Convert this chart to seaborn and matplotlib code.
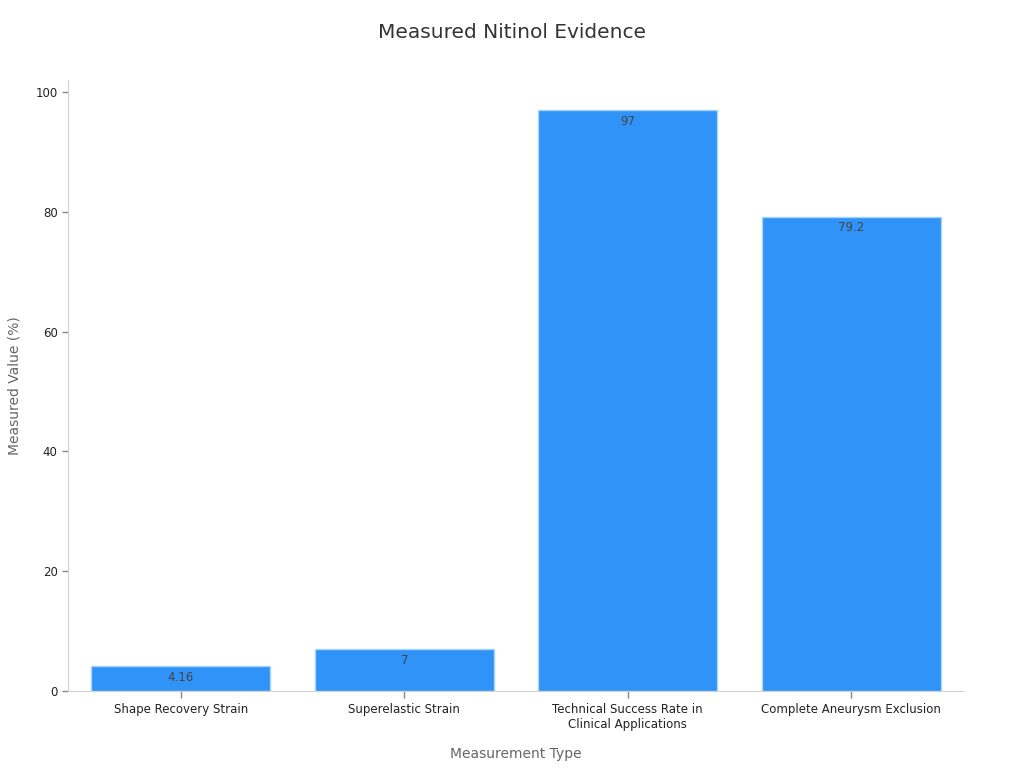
import matplotlib
matplotlib.use("Agg")
import matplotlib.pyplot as plt
import seaborn as sns
import pandas as pd

categories = ["Shape Recovery Strain", "Superelastic Strain",
              "Technical Success Rate in\nClinical Applications", "Complete Aneurysm Exclusion"]
values = [4.16, 7, 97, 79.2]
value_labels = ["4.16", "7", "97", "79.2"]

df = pd.DataFrame({"type": categories, "value": values})

sns.set_style("white")
plt.rcParams['font.family'] = ['DejaVu Sans']

fig = plt.figure(figsize=(10.24, 7.68), dpi=100)
ax = fig.add_axes([0.0664, 0.1003, 0.874, 0.7955])

sns.barplot(data=df, x="type", y="value", color="#2F93F8", saturation=1,
            width=0.8, edgecolor="#A9D3FB", linewidth=1, ax=ax)

for i, (v, lab) in enumerate(zip(values, value_labels)):
    ax.text(i, v - 0.8, lab, ha="center", va="top", fontsize=8.5, color="#444444")

ax.set_xlim(-0.505, 3.5)
ax.set_ylim(0, 102)
ax.set_yticks([0, 20, 40, 60, 80, 100])
ax.tick_params(axis="both", bottom=True, left=True, labelsize=8.5, labelcolor="#222222",
               length=4, width=1, color="#888888")
ax.tick_params(axis="x", length=5)
for s in ["top", "right"]:
    ax.spines[s].set_visible(False)
for s in ["left", "bottom"]:
    ax.spines[s].set_color("#D0D0D0")

ax.set_xlabel("Measurement Type", fontsize=10, color="#666666", labelpad=12)
ax.set_ylabel("Measured Value (%)", fontsize=10, color="#666666", labelpad=10)
fig.suptitle("Measured Nitinol Evidence", fontsize=14.5, color="#333333", y=0.97)

fig.savefig("out.png", dpi=100)
